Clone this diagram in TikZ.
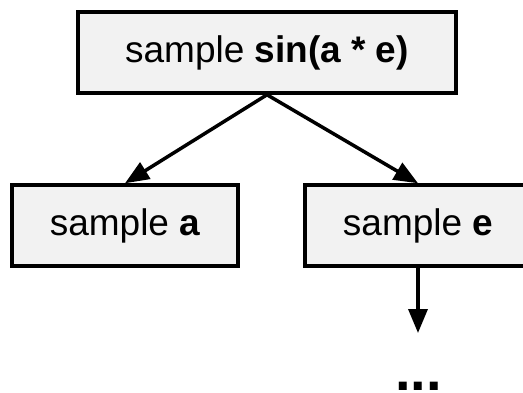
\documentclass[tikz,border=0pt]{standalone}
\usepackage{fontspec}
\setmainfont{Liberation Sans}
\usetikzlibrary{arrows.meta}
\definecolor{boxfill}{HTML}{F2F2F2}
\tikzset{
  samplebox/.style={draw=black, line width=3.5pt, fill=boxfill, inner sep=0pt,
    font=\fontsize{37}{41}\selectfont},
  link/.style={line width=3.5pt, -{Triangle[length=24pt,width=19pt]}}
}
\begin{document}
\begin{tikzpicture}[x=1pt,y=-1pt]
  \useasboundingbox (0,0) rectangle (523,392);
  \node[samplebox, minimum width=378pt, minimum height=81pt] (top) at (267,52.5)
    {sample \textbf{sin(a * e)}};
  \node[samplebox, minimum width=226pt, minimum height=81pt] (a) at (125,225.5)
    {sample \textbf{a}};
  \node[samplebox, minimum width=226pt, minimum height=81pt] (e) at (418,225.5)
    {sample \textbf{e}};
  \coordinate (etail) at (418,333);
  \node[anchor=base, inner sep=0pt, font=\fontsize{56}{60}\selectfont\bfseries] (more) at (418.5,390) {...};
  \draw[link] (top.south) -- (a.north);
  \draw[link] (top.south) -- (e.north);
  \draw[link] (e.south) -- (etail);
\end{tikzpicture}
\end{document}
